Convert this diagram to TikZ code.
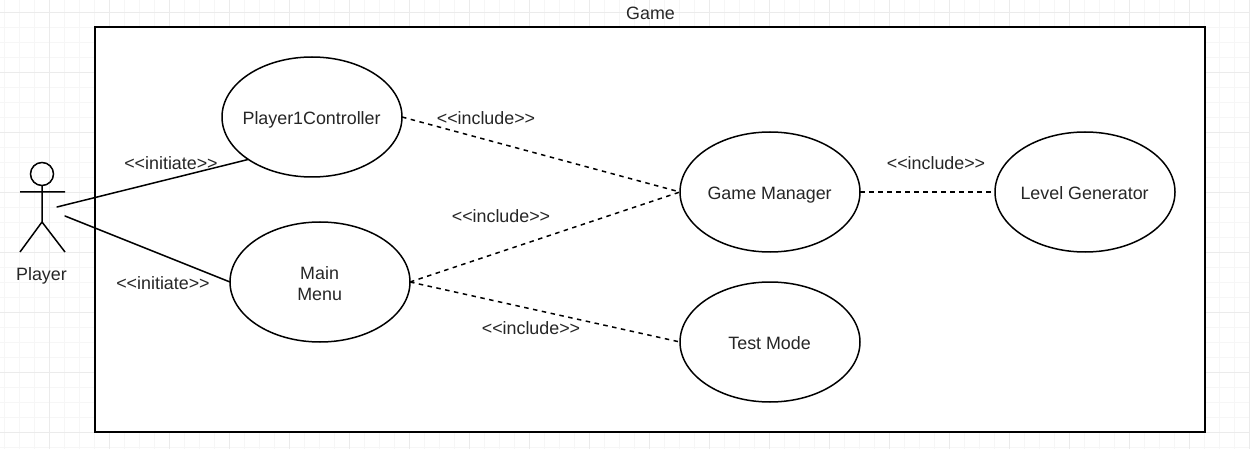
\documentclass[tikz,border=0pt]{standalone}
\usepackage{fontspec}
\setmainfont{Liberation Sans}
\usetikzlibrary{shapes.geometric}
\definecolor{gridminor}{HTML}{F6F6F6}
\definecolor{gridmajor}{HTML}{EBEBEB}
\definecolor{ink}{HTML}{000000}
\newcommand{\uctext}[1]{\makebox[0pt]{\raisebox{-5.9pt}[5pt][5pt]{\hspace{-0.6pt}#1}}}
\tikzset{
  px/.style={x=0.75pt,y=-0.75pt},
  stroke/.style={draw=ink,line width=1.125pt},
  usecase/.style={stroke,shape=ellipse,fill=white,minimum width=135pt,minimum height=90pt,inner sep=0pt,outer sep=0pt,align=center,font=\fontsize{13.4}{15.75}\selectfont,text=black!85},
  lbl/.style={inner sep=0pt,font=\fontsize{13.4}{15.75}\selectfont,text=black!85},
  solidlink/.style={stroke,line cap=round},
  dashlink/.style={stroke,dash pattern=on 3.375pt off 3.375pt},
}
\begin{document}
\begin{tikzpicture}[px]
\useasboundingbox (0,0) rectangle (1250,449);
% canvas grid
\foreach \v in {4.5,19.5,...,1249.5} \draw[gridminor,line width=0.75pt] (\v,0) -- (\v,449);
\foreach \v in {12.5,27.5,...,449} \draw[gridminor,line width=0.75pt] (0,\v) -- (1250,\v);
\foreach \v in {49.5,109.5,...,1249.5} \draw[gridmajor,line width=0.75pt] (\v,0) -- (\v,449);
\foreach \v in {12.5,72.5,...,449} \draw[gridmajor,line width=0.75pt] (0,\v) -- (1250,\v);
% system boundary
\node[stroke,fill=white,minimum width=832.5pt,minimum height=303.75pt,inner sep=0pt,outer sep=0pt,anchor=north west] (game) at (95,27) {};
\node[lbl] (gametitle) at (650.5,13.5) {Game};
% actor
\draw[stroke] (42,174) circle[radius=11.5];
\draw[stroke] (42,185.5) -- (42,222) (20,192) -- (65,192) (20,252) -- (42,222) -- (65,252);
\node[lbl] (player) at (41.5,276) {Player};
\coordinate (actorA) at (57,207);
\coordinate (actorB) at (65,216);
% use cases
\node[usecase] (p1) at (312,117) {\uctext{Player1Controller}};
\node[usecase] (mm) at (320,282) {\uctext{Main}\\\uctext{Menu}};
\node[usecase] (gm) at (770,192) {\uctext{Game Manager}};
\node[usecase] (lg) at (1085,192) {\uctext{Level Generator}};
\node[usecase] (tm) at (770,342) {\uctext{Test Mode}};
% connectors
\draw[solidlink] (actorA) -- (p1.south west);
\draw[solidlink] (actorB) -- (mm.west);
\draw[dashlink] (p1.east) -- (gm.west);
\draw[dashlink] (mm.east) -- (gm.west);
\draw[dashlink] (mm.east) -- (tm.west);
\draw[dashlink] (gm.east) -- (lg.west);
% connector labels
\node[lbl] (l1) at (171,163.5) {<{}<initiate>{}>};
\node[lbl] (l2) at (163,283.5) {<{}<initiate>{}>};
\node[lbl] (l3) at (486,118.5) {<{}<include>{}>};
\node[lbl] (l4) at (501,216.5) {<{}<include>{}>};
\node[lbl] (l5) at (531,328.5) {<{}<include>{}>};
\node[lbl] (l6) at (936,163.5) {<{}<include>{}>};
\end{tikzpicture}
\end{document}
